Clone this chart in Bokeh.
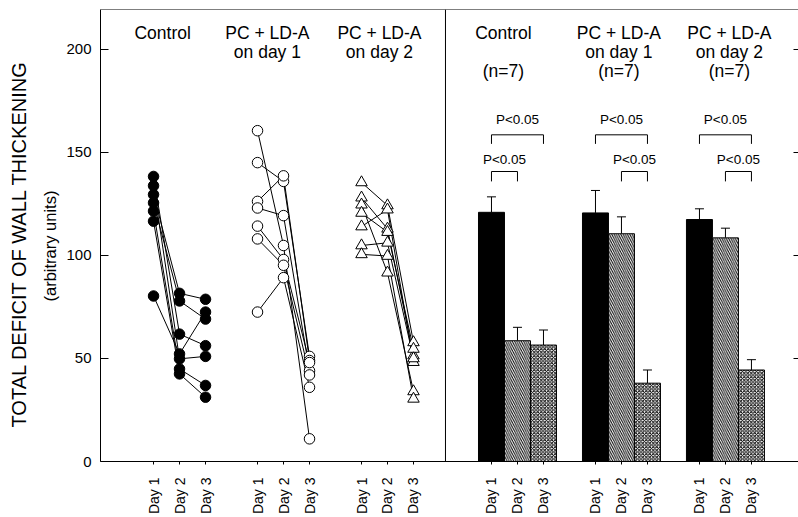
import math
from bokeh.plotting import figure
from bokeh.models import (Range1d, FixedTicker, LinearAxis, Span, Whisker,
                          TeeHead, ColumnDataSource, Title)
from bokeh.embed import file_html
from bokeh.resources import INLINE
from bokeh.core.properties import value

FONT = "Liberation Sans"

# ---------------- data ----------------
days = ["Day 1", "Day 2", "Day 3"]
left_titles = [["Control"], ["PC + LD-A", "on day 1"], ["PC + LD-A", "on day 2"]]
right_titles = [["Control", "", "(n=7)"], ["PC + LD-A", "on day 1", "(n=7)"],
                ["PC + LD-A", "on day 2", "(n=7)"]]
y_title = "TOTAL DEFICIT OF WALL THICKENING"
y_subtitle = "(arbitrary units)"

# individual animals (each index = one animal, day1 -> day2 -> day3)
control_day1 = [129.5, 125.5, 138.3, 80.3, 133.8, 121.5, 116.6]
control_day2 = [81.6, 77.9, 61.8, 52.2, 49.8, 44.9, 42.5]
control_day3 = [78.7, 69.1, 56.2, 72.5, 51.0, 36.9, 31.2]

pc1_day1 = [145.0, 126.2, 123.0, 114.2, 108.0, 72.5, 160.5]
pc1_day2 = [135.9, 138.6, 119.3, 98.0, 95.2, 89.2, 104.8]
pc1_day3 = [51.0, 49.0, 44.0, 48.0, 42.0, 36.0, 11.0]

pc2_day1 = [135.4, 128.0, 124.6, 120.6, 114.0, 104.8, 100.5]
pc2_day2 = [124.2, 112.9, 91.6, 111.3, 122.2, 106.1, 99.7]
pc2_day3 = [57.8, 51.4, 34.0, 54.6, 48.2, 50.0, 30.4]

# group means and SEM
control_mean = [120.9, 58.6, 56.5]
control_sem = [7.5, 6.5, 7.3]
pc1_mean = [120.6, 110.5, 38.0]
pc1_sem = [10.9, 8.2, 6.4]
pc2_mean = [117.4, 108.5, 44.4]
pc2_sem = [5.2, 4.7, 5.0]

# significance brackets: (day index a, day index b) per group, upper and lower
sig_upper = [(0, 2), (0, 2), (0, 2)]
sig_lower = [(0, 1), (1, 2), (1, 2)]
sig_text = "P<0.05"

y_ticks = [0, 50, 100, 150, 200]

# ---------------- layout helpers ----------------
GROUP_STEP = 4
RIGHT_OFFSET = 13
def xpos(g, d, right=False):
    return (RIGHT_OFFSET if right else 0) + GROUP_STEP * g + d + 1

Y_TOP = 219.3
X_LEFT, X_RIGHT = -1.04, 25.81
DIVIDER = 12.23

p = figure(width=798, height=517, output_backend="svg", toolbar_location=None,
           x_range=Range1d(X_LEFT, X_RIGHT), y_range=Range1d(0, Y_TOP),
           min_border_left=100, min_border_right=0, min_border_top=9,
           min_border_bottom=54)
p.outline_line_color = None
p.xgrid.visible = False
p.ygrid.visible = False
p.background_fill_color = "white"

# ---------------- left panel: individual lines ----------------
series = [
    (control_day1, control_day2, control_day3, "circle", "black", 10.5),
    (pc1_day1, pc1_day2, pc1_day3, "circle", "white", 10.5),
    (pc2_day1, pc2_day2, pc2_day3, "triangle", "white", 11.5),
]
for g, (d1, d2, d3, marker, fill, size) in enumerate(series):
    xs3 = [xpos(g, 0), xpos(g, 1), xpos(g, 2)]
    xs = [xs3 for _ in d1]
    ys = [[a, b, c] for a, b, c in zip(d1, d2, d3)]
    p.multi_line(xs=xs, ys=ys, line_color="black", line_width=1)
for g, (d1, d2, d3, marker, fill, size) in enumerate(series):
    px, py = [], []
    for d, vals in enumerate([d1, d2, d3]):
        px += [xpos(g, d)] * len(vals)
        py += vals
    p.scatter(px, py, marker=marker, size=size, fill_color=fill,
              line_color="black", line_width=1)

# ---------------- right panel: bars ----------------
means = [control_mean, pc1_mean, pc2_mean]
sems = [control_sem, pc1_sem, pc2_sem]
bar_styles = [
    dict(fill_color="black"),
    dict(fill_color="white", hatch_pattern="\\", hatch_scale=4.5, hatch_weight=1, hatch_color="black"),
    dict(fill_color="white", hatch_pattern="x", hatch_scale=3.5, hatch_weight=1, hatch_color="black"),
]
for d in range(3):
    bx = [xpos(g, d, True) for g in range(3)]
    bt = [means[g][d] for g in range(3)]
    p.vbar(x=bx, top=bt, bottom=0, width=1.0, line_color="black", line_width=1,
           **bar_styles[d])
wx, wl, wu = [], [], []
for g in range(3):
    for d in range(3):
        wx.append(xpos(g, d, True))
        wl.append(means[g][d])
        wu.append(means[g][d] + sems[g][d])
wsrc = ColumnDataSource(dict(x=wx, lower=wl, upper=wu))
p.add_layout(Whisker(base="x", lower="lower", upper="upper", source=wsrc,
                     line_color="black", line_width=1, lower_head=None,
                     upper_head=TeeHead(size=9, line_color="black", line_width=1)))

# significance brackets
UP_TOP, UP_LEG, UP_TXT = 158.5, 154.1, 165.7
LO_TOP, LO_LEG, LO_TXT = 140.7, 135.9, 146.7
bxs, bys, tx, ty = [], [], [], []
for g in range(3):
    for (a, b), top, leg, txt in [(sig_upper[g], UP_TOP, UP_LEG, UP_TXT),
                                  (sig_lower[g], LO_TOP, LO_LEG, LO_TXT)]:
        xa, xb = xpos(g, a, True), xpos(g, b, True)
        bxs.append([xa, xa, xb, xb])
        bys.append([leg, top, top, leg])
        tx.append((xa + xb) / 2)
        ty.append(txt)
p.multi_line(xs=bxs, ys=bys, line_color="black", line_width=1)
p.text(x=tx, y=ty, text=[sig_text] * len(tx), text_font=value(FONT),
       text_font_size="13.5px", text_align="center", text_baseline="middle",
       text_color="black")

# ---------------- group titles ----------------
LINE_Y = [207.7, 198.6, 189.4]
left_title_x = [1.35, 5.38, 9.69]
right_title_x = [14.46, 18.9, 23.15]
ttx, tty, ttt = [], [], []
for xs_, titles in [(left_title_x, left_titles), (right_title_x, right_titles)]:
    for xc, lines in zip(xs_, titles):
        for i, line in enumerate(lines):
            if line:
                ttx.append(xc); tty.append(LINE_Y[i]); ttt.append(line)
p.text(x=ttx, y=tty, text=ttt, text_font=value(FONT), text_font_size="17.5px",
       text_align="center", text_baseline="middle", text_color="black")

# ---------------- frame lines ----------------
p.add_layout(Span(location=Y_TOP, dimension="width", line_color="black", line_width=1))
p.add_layout(Span(location=DIVIDER, dimension="height", line_color="black", line_width=1))

# ---------------- axes ----------------
tick_x, overrides = [], {}
for right in (False, True):
    for g in range(3):
        for d in range(3):
            xv = xpos(g, d, right)
            tick_x.append(xv)
            overrides[xv] = days[d]
xa = p.xaxis[0]
xa.ticker = FixedTicker(ticks=tick_x)
xa.major_label_overrides = overrides
xa.major_label_orientation = math.pi / 2
xa.major_label_text_font = FONT
xa.major_label_text_font_size = "14px"
xa.major_label_text_color = "black"
xa.major_label_standoff = 13
xa.major_tick_out = 3
xa.major_tick_in = 0
xa.major_tick_line_color = "black"
xa.minor_tick_line_color = None
xa.axis_line_color = "black"

ya = p.yaxis[0]
ya.ticker = FixedTicker(ticks=y_ticks)
ya.major_tick_in = 8
ya.major_tick_out = 0
ya.major_tick_line_color = "black"
ya.axis_line_color = "black"
ya.minor_tick_line_color = None
ya.major_label_text_font = FONT
ya.major_label_text_font_size = "15px"
ya.major_label_text_color = "black"
ya.major_label_standoff = 9

# left titles: aligned from the bottom of the frame, shifted up by offset px
p.add_layout(Title(text=y_subtitle, align="left", offset=160, standoff=9,
                   text_font=FONT, text_font_size="16.5px", text_font_style="normal",
                   text_color="black"), "left")
p.add_layout(Title(text=y_title, align="left", offset=34, standoff=9,
                   text_font=FONT, text_font_size="20px", text_font_style="normal",
                   text_color="black"), "left")

raxis = LinearAxis(ticker=FixedTicker(ticks=y_ticks[1:]), axis_line_color=None,
                   major_tick_in=5, major_tick_out=0, minor_tick_line_color=None,
                   major_tick_line_color="black",
                   major_label_text_font_size="0px", major_label_text_color=None,
                   major_label_standoff=0)
p.add_layout(raxis, "right")

open("out.html", "w").write(file_html(p, INLINE))
